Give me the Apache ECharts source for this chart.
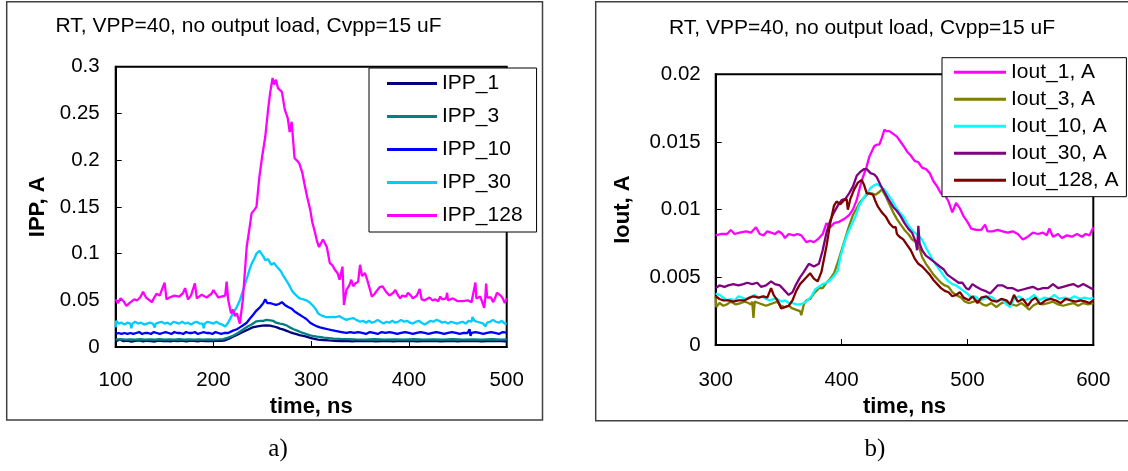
<!DOCTYPE html>
<html>
<head>
<meta charset="utf-8">
<script src="https://cdn.jsdelivr.net/npm/echarts@6/dist/echarts.min.js"></script>
<style>
html,body{margin:0;padding:0;background:#fff;}
#chart{width:1128px;height:471px;}
</style>
</head>
<body>
<div id="chart"></div>
<script>
// ---------- DATA ----------
const chartTitle = 'RT, VPP=40, no output load, Cvpp=15 uF';
const leftYName = 'IPP, A';
const rightYName = 'Iout, A';
const xName = 'time, ns';
const captions = ['a)', 'b)'];

const leftNames = ['IPP_1', 'IPP_3', 'IPP_10', 'IPP_30', 'IPP_128'];
const rightNames = ['Iout_1, A', 'Iout_3, A', 'Iout_10, A', 'Iout_30, A', 'Iout_128, A'];

const IPP_1 = [[100,0.006],[104,0.008],[108,0.0062],[112,0.0068],[116,0.0058],[120,0.0066],[124,0.007],[128,0.006],[132,0.0067],[136,0.0064],[140,0.0059],[144,0.0068],[148,0.0063],[152,0.0066],[156,0.006],[160,0.0067],[164,0.0062],[168,0.0069],[172,0.006],[176,0.0065],[180,0.0066],[184,0.0059],[188,0.0067],[192,0.0063],[196,0.0065],[200,0.0062],[204,0.0068],[208,0.0066],[212,0.0072],[216,0.009],[220,0.011],[225,0.0135],[230,0.016],[235,0.0185],[240,0.021],[245,0.022],[250,0.0228],[254,0.023],[258,0.0228],[261,0.0222],[265,0.021],[268,0.0197],[271,0.0188],[275,0.0172],[278,0.016],[282,0.0146],[285,0.0137],[288,0.0128],[292,0.0118],[295,0.011],[299,0.0098],[302,0.0089],[307,0.008],[312,0.0075],[318,0.007],[324,0.0067],[330,0.0064],[336,0.0066],[342,0.006],[348,0.0065],[354,0.0062],[360,0.0067],[366,0.0061],[372,0.0064],[378,0.0066],[384,0.006],[390,0.0065],[396,0.0062],[402,0.0066],[408,0.0061],[414,0.0064],[420,0.0062],[426,0.0067],[432,0.0061],[438,0.0064],[444,0.0066],[450,0.006],[456,0.0065],[462,0.0062],[468,0.0066],[474,0.0061],[480,0.0064],[486,0.0062],[492,0.0066],[498,0.0061],[500,0.0064]];

const IPP_3 = [[100,0.008],[105,0.0085],[110,0.008],[115,0.0082],[120,0.0078],[125,0.0083],[130,0.008],[135,0.0082],[140,0.0079],[145,0.0083],[150,0.008],[155,0.0081],[160,0.0079],[165,0.0083],[170,0.008],[175,0.0082],[180,0.008],[185,0.0081],[190,0.0079],[195,0.0082],[200,0.008],[205,0.0081],[210,0.0085],[215,0.010],[220,0.012],[225,0.015],[230,0.0185],[235,0.022],[239,0.024],[244,0.0275],[248,0.028],[251,0.028],[254,0.029],[258,0.0285],[261,0.028],[264,0.026],[268,0.025],[271,0.0245],[275,0.023],[278,0.021],[282,0.019],[285,0.0178],[289,0.016],[292,0.015],[296,0.0135],[299,0.0125],[303,0.0115],[306,0.011],[310,0.0105],[313,0.010],[318,0.0095],[323,0.009],[330,0.0087],[336,0.0085],[345,0.0082],[355,0.008],[365,0.0083],[375,0.0079],[385,0.0082],[395,0.008],[405,0.0083],[415,0.0079],[425,0.0081],[435,0.008],[445,0.0083],[455,0.0079],[465,0.0082],[475,0.008],[485,0.0083],[495,0.0079],[500,0.0082]];

const IPP_10 = [[100,0.014],[103,0.015],[106,0.014],[109,0.015],[112,0.014],[115,0.015],[118,0.014],[119,0.012],[121,0.015],[124,0.016],[127,0.014],[130,0.015],[133,0.015],[136,0.014],[139,0.016],[142,0.015],[145,0.014],[148,0.015],[151,0.016],[154,0.015],[157,0.014],[160,0.016],[163,0.015],[166,0.015],[169,0.014],[172,0.016],[175,0.015],[178,0.015],[181,0.016],[184,0.014],[187,0.015],[190,0.016],[193,0.015],[196,0.015],[199,0.014],[202,0.016],[205,0.015],[208,0.014],[211,0.015],[215,0.015],[220,0.0175],[224,0.019],[227,0.021],[230,0.023],[234,0.026],[237,0.030],[241,0.035],[244,0.039],[248,0.043],[251,0.047],[253,0.051],[255,0.047],[258,0.047],[261,0.046],[264,0.045],[267,0.046],[270,0.048],[273,0.045],[276,0.043],[280,0.041],[283,0.038],[285,0.036],[289,0.034],[292,0.032],[295,0.030],[299,0.026],[302,0.024],[306,0.022],[309,0.021],[313,0.020],[317,0.019],[321,0.018],[326,0.017],[331,0.016],[336,0.015],[340,0.016],[344,0.015],[348,0.016],[352,0.015],[356,0.014],[360,0.016],[364,0.015],[368,0.014],[372,0.016],[376,0.015],[380,0.016],[384,0.015],[388,0.014],[392,0.015],[396,0.016],[400,0.015],[404,0.014],[408,0.015],[412,0.016],[416,0.015],[420,0.014],[424,0.015],[428,0.016],[432,0.015],[436,0.014],[440,0.015],[444,0.016],[448,0.015],[452,0.014],[456,0.015],[460,0.015],[462,0.019],[463,0.012],[464,0.015],[468,0.016],[472,0.015],[476,0.014],[480,0.015],[484,0.016],[488,0.015],[492,0.014],[496,0.016],[500,0.0155]];

const IPP_30 = [[100,0.021],[100.5,0.028],[103,0.025],[106,0.026],[109,0.024],[112,0.026],[115,0.025],[116,0.020],[117,0.025],[120,0.027],[123,0.025],[126,0.026],[129,0.024],[132,0.025],[135,0.026],[138,0.025],[140,0.021],[141,0.025],[144,0.026],[147,0.027],[150,0.025],[153,0.026],[156,0.024],[159,0.027],[162,0.026],[165,0.025],[168,0.027],[171,0.025],[174,0.026],[177,0.024],[180,0.026],[183,0.027],[186,0.025],[189,0.025],[190,0.020],[191,0.025],[194,0.027],[197,0.026],[200,0.025],[203,0.027],[206,0.025],[209,0.024],[212,0.022],[215,0.026],[218,0.032],[220,0.036],[224,0.043],[227,0.050],[231,0.063],[234,0.073],[237,0.083],[239,0.089],[242,0.095],[244,0.100],[247,0.103],[249,0.100],[251,0.097],[253,0.093],[256,0.094],[259,0.088],[262,0.090],[264,0.087],[266,0.086],[269,0.081],[271,0.077],[274,0.072],[277,0.067],[280,0.061],[282,0.058],[285,0.055],[288,0.052],[292,0.051],[295,0.050],[298,0.048],[302,0.044],[305,0.040],[307,0.036],[310,0.034],[312,0.033],[315,0.032],[317,0.033],[320,0.032],[322,0.031],[325,0.032],[329,0.033],[332,0.031],[336,0.029],[339,0.030],[343,0.031],[346,0.029],[350,0.027],[353,0.028],[356,0.026],[359,0.028],[362,0.026],[365,0.027],[368,0.029],[371,0.027],[374,0.025],[377,0.027],[380,0.026],[383,0.028],[386,0.026],[389,0.027],[392,0.029],[395,0.027],[398,0.028],[401,0.026],[404,0.025],[407,0.027],[410,0.028],[413,0.026],[416,0.024],[419,0.026],[422,0.028],[425,0.027],[428,0.029],[431,0.028],[434,0.026],[437,0.027],[440,0.025],[443,0.027],[446,0.026],[449,0.025],[452,0.026],[455,0.027],[458,0.025],[461,0.028],[464,0.027],[465,0.032],[467,0.028],[470,0.027],[473,0.026],[476,0.025],[478,0.022],[480,0.026],[483,0.027],[486,0.029],[489,0.027],[492,0.026],[495,0.028],[498,0.025],[500,0.025]];

const IPP_128 = [[100,0.051],[102,0.047],[105,0.052],[108,0.049],[111,0.044],[114,0.047],[116,0.048],[119,0.051],[122,0.050],[125,0.053],[128,0.059],[131,0.053],[133,0.052],[137,0.048],[140,0.054],[142,0.057],[145,0.055],[147,0.055],[150,0.069],[152,0.051],[155,0.053],[157,0.052],[160,0.055],[162,0.056],[165,0.054],[167,0.053],[169,0.058],[171,0.063],[174,0.051],[177,0.055],[179,0.054],[181,0.068],[183,0.052],[185,0.051],[188,0.056],[190,0.055],[193,0.053],[195,0.053],[198,0.057],[200,0.061],[203,0.056],[205,0.053],[208,0.054],[210,0.056],[212,0.055],[213.5,0.070],[215,0.051],[218,0.036],[220,0.040],[222,0.033],[224,0.036],[227,0.025],[230,0.050],[234,0.107],[237,0.128],[239,0.143],[242,0.147],[244,0.150],[247,0.182],[250,0.205],[253,0.225],[256,0.255],[258,0.272],[260.5,0.288],[262,0.281],[264,0.286],[266,0.277],[270,0.273],[273,0.254],[276,0.245],[278,0.230],[280,0.241],[283,0.202],[286,0.199],[288,0.196],[291,0.186],[293,0.175],[296,0.160],[299,0.147],[301,0.134],[304,0.122],[306,0.113],[308,0.107],[310,0.111],[312,0.115],[314,0.113],[316,0.107],[319,0.090],[322,0.087],[324,0.083],[327,0.079],[329,0.072],[332,0.086],[333.5,0.045],[336,0.061],[339,0.066],[341,0.072],[343,0.065],[345,0.068],[348,0.070],[350,0.088],[352,0.076],[355,0.079],[357,0.073],[360,0.062],[362,0.054],[365,0.057],[367,0.060],[370,0.064],[373,0.065],[376,0.060],[378,0.058],[380,0.055],[382,0.054],[384,0.058],[386,0.061],[389,0.055],[391,0.052],[393,0.055],[395,0.057],[397,0.054],[399,0.058],[402,0.055],[404,0.052],[406,0.054],[408,0.055],[410,0.053],[411,0.062],[413,0.051],[416,0.050],[418,0.052],[421,0.053],[424,0.050],[427,0.051],[430,0.049],[432,0.054],[434,0.051],[436,0.050],[438,0.052],[439,0.058],[440,0.050],[442,0.049],[445,0.052],[447,0.051],[450,0.049],[452,0.051],[455,0.049],[457,0.048],[460,0.050],[462,0.051],[464,0.048],[466,0.049],[468,0.069],[469,0.052],[471,0.050],[473,0.054],[475,0.052],[477,0.042],[478,0.052],[479,0.068],[480,0.053],[482,0.051],[484,0.053],[486,0.048],[488,0.052],[490,0.058],[492,0.056],[494,0.055],[496,0.052],[498,0.047],[500,0.052]];

const IOUT_1 = [[300,0.0081],[304,0.0082],[309,0.0082],[312,0.0085],[315,0.0082],[319,0.0083],[324,0.0084],[328,0.0083],[332,0.0087],[335,0.0082],[338,0.0081],[341,0.0084],[344,0.0083],[347,0.0082],[350,0.0084],[353,0.0082],[355,0.0079],[358,0.0082],[362,0.0081],[365,0.0082],[368,0.0081],[372,0.0076],[375,0.0077],[378,0.0076],[381,0.0078],[385,0.0082],[388,0.0090],[391,0.0087],[394,0.0090],[398,0.0091],[402,0.0093],[406,0.0096],[409,0.0100],[412,0.0107],[415,0.0118],[417,0.0124],[420,0.0132],[422,0.0139],[424,0.0143],[426,0.0147],[428,0.0148],[430,0.0148],[432,0.0153],[434,0.0159],[436,0.0158],[438,0.0158],[441,0.0156],[444,0.0154],[447,0.0150],[450,0.0146],[452,0.0143],[455,0.0140],[458,0.0136],[461,0.0135],[464,0.0131],[467,0.0130],[470,0.0127],[473,0.0121],[476,0.0117],[479,0.0112],[482,0.0111],[485,0.0106],[488,0.0098],[491,0.0105],[494,0.0101],[497,0.0095],[500,0.0091],[503,0.0086],[507,0.0085],[511,0.0085],[514,0.0089],[516,0.0084],[520,0.0084],[524,0.0085],[528,0.0084],[532,0.0083],[536,0.0084],[540,0.0082],[544,0.0078],[548,0.0080],[552,0.0083],[556,0.0082],[560,0.0083],[563,0.0081],[565,0.0086],[568,0.0080],[572,0.0082],[575,0.0079],[579,0.0081],[583,0.0080],[587,0.0082],[591,0.0080],[594,0.0082],[597,0.0081],[600,0.0087]];

const IOUT_3 = [[300,0.0036],[300.5,0.0028],[303,0.0031],[306,0.0029],[309,0.0030],[312,0.0032],[316,0.0030],[320,0.0031],[323,0.0032],[326,0.0031],[328,0.0030],[329,0.0032],[330,0.0020],[331,0.0032],[334,0.0031],[337,0.0030],[340,0.0029],[343,0.0030],[346,0.0031],[349,0.0032],[352,0.0029],[355,0.0028],[358,0.0029],[361,0.0027],[364,0.0026],[367,0.0025],[368,0.0022],[370,0.0030],[372,0.0033],[375,0.0034],[378,0.0038],[382,0.0042],[385,0.0042],[388,0.0046],[391,0.0049],[394,0.0053],[397,0.0061],[400,0.0070],[403,0.0079],[406,0.0088],[409,0.0096],[412,0.0101],[415,0.0106],[418,0.0109],[421,0.0112],[424,0.0112],[427,0.0111],[430,0.0113],[432,0.0115],[435,0.0110],[438,0.0104],[441,0.0098],[444,0.0093],[447,0.0089],[450,0.0085],[453,0.0082],[456,0.0078],[459,0.0076],[462,0.0071],[464,0.0065],[467,0.0060],[470,0.0056],[473,0.0052],[476,0.0049],[479,0.0046],[482,0.0044],[485,0.0043],[488,0.0039],[491,0.0037],[495,0.0035],[498,0.0032],[501,0.0031],[505,0.0032],[508,0.0033],[512,0.0030],[515,0.0029],[519,0.0031],[523,0.0028],[527,0.0031],[531,0.0032],[535,0.0030],[539,0.0029],[543,0.0031],[547,0.0028],[549,0.0026],[552,0.0029],[556,0.0031],[560,0.0030],[564,0.0031],[568,0.0032],[572,0.0030],[576,0.0029],[580,0.0030],[584,0.0031],[588,0.0029],[592,0.0031],[596,0.0030],[600,0.0031]];

const IOUT_10 = [[300,0.0038],[303,0.0037],[306,0.0035],[309,0.0033],[312,0.0034],[315,0.0033],[318,0.0036],[321,0.0035],[324,0.0034],[327,0.0035],[331,0.0037],[334,0.0035],[337,0.0036],[340,0.0034],[343,0.0033],[346,0.0034],[349,0.0034],[352,0.0032],[355,0.0033],[358,0.0031],[361,0.0031],[364,0.0030],[367,0.0030],[370,0.0031],[373,0.0033],[376,0.0036],[379,0.0041],[382,0.0043],[385,0.0045],[388,0.0046],[391,0.0048],[394,0.0051],[397,0.0055],[399,0.0065],[402,0.0075],[405,0.0083],[408,0.0089],[411,0.0095],[414,0.0103],[417,0.0108],[420,0.0112],[423,0.0116],[426,0.0118],[428,0.0119],[431,0.0117],[434,0.0115],[437,0.0111],[440,0.0107],[443,0.0102],[446,0.0098],[449,0.0095],[452,0.0090],[455,0.0086],[458,0.0083],[461,0.0081],[464,0.0078],[467,0.0072],[470,0.0067],[473,0.0062],[476,0.0058],[479,0.0054],[482,0.0050],[485,0.0047],[488,0.0045],[491,0.0044],[494,0.0042],[497,0.0040],[500,0.0038],[503,0.0035],[506,0.0036],[510,0.0033],[513,0.0034],[517,0.0036],[520,0.0035],[524,0.0032],[527,0.0034],[531,0.0030],[534,0.0028],[537,0.0034],[541,0.0036],[545,0.0033],[549,0.0034],[553,0.0037],[557,0.0033],[561,0.0035],[565,0.0034],[569,0.0037],[573,0.0034],[577,0.0035],[581,0.0034],[585,0.0036],[589,0.0034],[593,0.0035],[597,0.0034],[600,0.0035]];

const IOUT_30 = [[300,0.0042],[303,0.0044],[307,0.0043],[310,0.0044],[314,0.0045],[318,0.0044],[322,0.0045],[325,0.0046],[329,0.0045],[333,0.0046],[336,0.0043],[340,0.0044],[344,0.0047],[347,0.0045],[351,0.0044],[355,0.0040],[358,0.0037],[361,0.0039],[364,0.0045],[367,0.0050],[370,0.0054],[374,0.0060],[378,0.0058],[382,0.0060],[385,0.0070],[388,0.0083],[391,0.0092],[394,0.0098],[397,0.0103],[400,0.0107],[403,0.0108],[406,0.0112],[409,0.0117],[412,0.0125],[415,0.0128],[418,0.0130],[420,0.0130],[423,0.0127],[426,0.0126],[428,0.0124],[431,0.0118],[434,0.0113],[437,0.0108],[441,0.0102],[444,0.0099],[447,0.0095],[450,0.0090],[453,0.0086],[456,0.0083],[459,0.0076],[460,0.0070],[461,0.0088],[462,0.0075],[464,0.0070],[467,0.0066],[470,0.0064],[474,0.0061],[478,0.0058],[481,0.0056],[484,0.0052],[487,0.0050],[490,0.0048],[493,0.0046],[496,0.0046],[499,0.0042],[501,0.0041],[504,0.0045],[507,0.0043],[511,0.0041],[514,0.0040],[518,0.0038],[521,0.0041],[524,0.0044],[528,0.0044],[532,0.0042],[536,0.0042],[540,0.0040],[544,0.0041],[548,0.0042],[552,0.0043],[556,0.0041],[560,0.0042],[564,0.0042],[568,0.0045],[572,0.0042],[576,0.0043],[580,0.0044],[584,0.0045],[588,0.0043],[592,0.0045],[596,0.0043],[600,0.0041]];

const IOUT_128 = [[300,0.0036],[303,0.0034],[306,0.0033],[310,0.0033],[314,0.0032],[318,0.0033],[323,0.0033],[327,0.0035],[330,0.0036],[334,0.0035],[338,0.0036],[341,0.0035],[344,0.0042],[346,0.0037],[349,0.0033],[352,0.0027],[355,0.0028],[358,0.0029],[361,0.0033],[364,0.0040],[367,0.0045],[371,0.0049],[375,0.0053],[378,0.0049],[381,0.0047],[384,0.0054],[388,0.0073],[391,0.0090],[394,0.0103],[396,0.0106],[399,0.0104],[402,0.0107],[404,0.0108],[405,0.0100],[407,0.0108],[410,0.0115],[413,0.0120],[416,0.0122],[418,0.0118],[420,0.0112],[422,0.0112],[425,0.0111],[427,0.0106],[429,0.0102],[432,0.0098],[435,0.0095],[438,0.0090],[441,0.0087],[443,0.0087],[444,0.0082],[446,0.0080],[449,0.0078],[452,0.0074],[455,0.0070],[458,0.0064],[461,0.0060],[464,0.0058],[467,0.0055],[470,0.0052],[473,0.0048],[476,0.0045],[479,0.0042],[482,0.0040],[485,0.0039],[488,0.0036],[491,0.0037],[494,0.0039],[497,0.0035],[501,0.0033],[504,0.0036],[508,0.0031],[511,0.0035],[515,0.0036],[519,0.0033],[523,0.0032],[527,0.0034],[531,0.0033],[534,0.0030],[537,0.0037],[540,0.0032],[544,0.0034],[548,0.0029],[551,0.0033],[554,0.0035],[558,0.0030],[562,0.0033],[566,0.0034],[570,0.0033],[574,0.0031],[578,0.0034],[582,0.0033],[586,0.0032],[590,0.0033],[594,0.0032],[597,0.0031],[600,0.0033]];

const leftData = [IPP_1, IPP_3, IPP_10, IPP_30, IPP_128];
const rightData = [IOUT_1, IOUT_3, IOUT_10, IOUT_30, IOUT_128];

// ---------- STYLE ----------
const leftColors = ['#000080', '#008080', '#0000FF', '#00CCFF', '#FF00FF'];
const rightColors = ['#FF00FF', '#808000', '#00FFFF', '#800080', '#800000'];
const FONT = '"Liberation Sans", Arial, sans-serif';
const SERIF = '"Liberation Serif", "Times New Roman", serif';

const chart = echarts.init(document.getElementById('chart'), null, {renderer: 'canvas'});

function mkX(idx, min, max, nameGap, labelMargin) {
  return {
    type: 'value', gridIndex: idx, min: min, max: max, interval: 100,
    name: xName, nameLocation: 'middle', nameGap: nameGap,
    nameTextStyle: {fontFamily: FONT, fontSize: 22, fontWeight: 'bold', color: '#000'},
    axisLine: {show: true, onZero: false, lineStyle: {color: '#000', width: 2}},
    axisTick: {show: true, inside: true, length: 6, lineStyle: {color: '#000', width: 1}},
    axisLabel: {fontFamily: FONT, fontSize: 20.5, color: '#000', margin: labelMargin},
    splitLine: {show: false}
  };
}
function mkY(idx, max, interval, name, nameGap, labelMargin) {
  return {
    type: 'value', gridIndex: idx, min: 0, max: max, interval: interval,
    name: name, nameLocation: 'middle', nameGap: nameGap,
    nameTextStyle: {fontFamily: FONT, fontSize: 22, fontWeight: 'bold', color: '#000'},
    axisLine: {show: true, onZero: false, lineStyle: {color: '#000', width: 2}},
    axisTick: {show: true, inside: true, length: 6, lineStyle: {color: '#000', width: 1}},
    axisLabel: {fontFamily: FONT, fontSize: 20.5, color: '#000', margin: labelMargin},
    splitLine: {show: false}
  };
}

const series = [];
leftNames.forEach((n, i) => series.push({
  name: n, type: 'line', xAxisIndex: 0, yAxisIndex: 0, data: leftData[i],
  symbol: 'none', showSymbol: false, color: leftColors[i],
  lineStyle: {width: 2.3, color: leftColors[i]}, z: 2 + i
}));
rightNames.forEach((n, i) => series.push({
  name: n, type: 'line', xAxisIndex: 1, yAxisIndex: 1, data: rightData[i],
  symbol: 'none', showSymbol: false, color: rightColors[i],
  lineStyle: {width: 2.3, color: rightColors[i]}, z: 2 + i
}));

const option = {
  backgroundColor: '#fff',
  animation: false,
  grid: [
    {left: 115.7, top: 66.7, width: 391, height: 280.3, show: true, borderColor: '#000', borderWidth: 2, backgroundColor: 'transparent', z: 1},
    {left: 715.7, top: 74.3, width: 377.6, height: 270.7, show: true, borderColor: '#000', borderWidth: 2, backgroundColor: 'transparent', z: 1}
  ],
  xAxis: [mkX(0, 100, 500, 40, 23), mkX(1, 300, 600, 42, 25)],
  yAxis: [mkY(0, 0.3, 0.05, leftYName, 67, 16), mkY(1, 0.02, 0.005, rightYName, 82, 15)],
  legend: [
    {
      data: leftNames, orient: 'vertical', left: 369, top: 68,
      icon: 'rect', itemWidth: 50, itemHeight: 3, itemGap: 12,
      padding: [5, 14, 6, 18],
      backgroundColor: '#fff', borderColor: '#000', borderWidth: 1,
      textStyle: {fontFamily: FONT, fontSize: 21, color: '#000'},
      selectedMode: false, z: 10
    },
    {
      data: rightNames, orient: 'vertical', left: 942, top: 57.7,
      icon: 'rect', itemWidth: 52, itemHeight: 3, itemGap: 6,
      padding: [4, 8, 6, 12],
      backgroundColor: '#fff', borderColor: '#000', borderWidth: 1,
      textStyle: {fontFamily: FONT, fontSize: 21, color: '#000'},
      selectedMode: false, z: 10
    }
  ],
  graphic: [
    {type: 'rect', shape: {x: 6.7, y: 1.7, width: 535.8, height: 418.3}, style: {fill: 'none', stroke: '#404040', lineWidth: 1.5}, z: 0, silent: true},
    {type: 'rect', shape: {x: 595.7, y: 1.7, width: 560, height: 419}, style: {fill: 'none', stroke: '#404040', lineWidth: 1.5}, z: 0, silent: true},
    {type: 'text', x: 248.5, y: 26, style: {text: chartTitle, fontFamily: FONT, fontSize: 21, fill: '#000', align: 'center', verticalAlign: 'middle'}, z: 5},
    {type: 'text', x: 862, y: 28.5, style: {text: chartTitle, fontFamily: FONT, fontSize: 21, fill: '#000', align: 'center', verticalAlign: 'middle'}, z: 5},
    {type: 'text', x: 278, y: 449, style: {text: captions[0], fontFamily: SERIF, fontSize: 25, fill: '#000', align: 'center', verticalAlign: 'middle'}, z: 5},
    {type: 'text', x: 875, y: 449, style: {text: captions[1], fontFamily: SERIF, fontSize: 25, fill: '#000', align: 'center', verticalAlign: 'middle'}, z: 5}
  ],
  series: series
};
chart.setOption(option);
</script>
</body>
</html>
